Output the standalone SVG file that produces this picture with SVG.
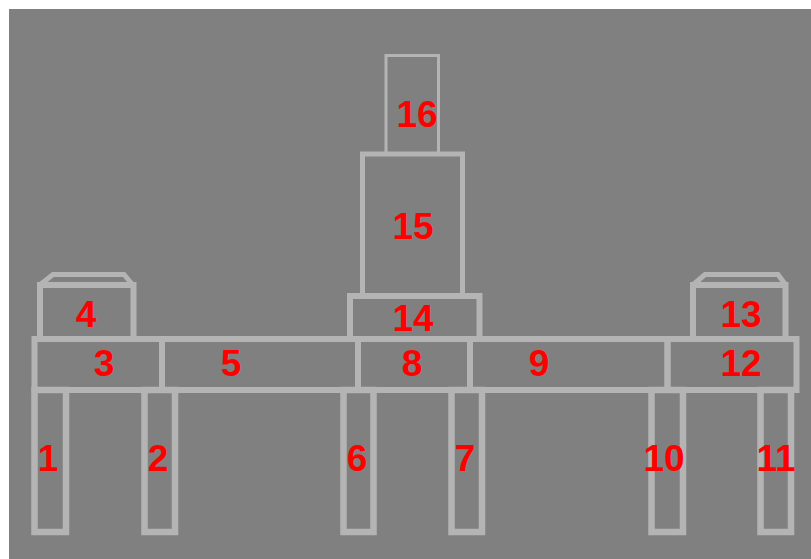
<svg xmlns="http://www.w3.org/2000/svg" width="811" height="559" viewBox="0 0 811 559">
<style>
.p{fill:none;stroke:#b4b4b4;stroke-width:6}
.leg{stroke-width:6.5}
.thin{stroke-width:3}
.mid{stroke-width:5}
.t{font-family:"Liberation Sans",Arial,sans-serif;font-weight:bold;font-size:37px;fill:#ff0000;text-anchor:middle}
</style>
<rect x="0" y="0" width="811" height="559" fill="#ffffff"/>
<rect x="9" y="9" width="802" height="550" fill="#808080"/>
<g id="part1"><rect class="p leg" x="34.5" y="390" width="31.5" height="142"/><text class="t" x="48" y="471">1</text></g>
<g id="part2"><rect class="p leg" x="144.5" y="390" width="30.5" height="142"/><text class="t" x="158" y="471">2</text></g>
<g id="part6"><rect class="p leg" x="343.5" y="390" width="30" height="142"/><text class="t" x="357" y="471">6</text></g>
<g id="part7"><rect class="p leg" x="451.5" y="390" width="30.5" height="142"/><text class="t" x="465" y="471">7</text></g>
<g id="part10"><rect class="p leg" x="651.5" y="390" width="31.5" height="142"/><text class="t" x="664" y="471">10</text></g>
<g id="part11"><rect class="p leg" x="760.5" y="390" width="30.5" height="142"/><text class="t" x="776" y="471">11</text></g>
<g id="part3"><rect class="p" x="34.5" y="339" width="127.5" height="51"/><text class="t" x="104" y="376">3</text></g>
<g id="part5"><rect class="p" x="162" y="339" width="196" height="51"/><text class="t" x="231" y="376">5</text></g>
<g id="part8"><rect class="p" x="358" y="339" width="112" height="51"/><text class="t" x="412" y="376">8</text></g>
<g id="part9"><rect class="p" x="470" y="339" width="197.5" height="51"/><text class="t" x="539" y="376">9</text></g>
<g id="part12"><rect class="p" x="667.5" y="339" width="129" height="51"/><text class="t" x="741" y="376">12</text></g>
<g id="part4"><rect class="p" x="40" y="285" width="93.5" height="54"/><polyline class="p mid" points="41,284 53,274.5 124,274.5 132,284"/><text class="t" x="86" y="327">4</text></g>
<g id="part13"><rect class="p" x="693" y="285" width="92.5" height="54"/><polyline class="p mid" points="694,284 705,274.5 778,274.5 785,284"/><text class="t" x="741" y="327">13</text></g>
<g id="part14"><rect class="p" x="350" y="296" width="129.5" height="43"/><text class="t" x="413" y="331">14</text></g>
<g id="part15"><rect class="p mid" x="362.5" y="154" width="100" height="142"/><text class="t" x="413" y="239">15</text></g>
<g id="part16"><rect class="p thin" x="386" y="55.5" width="52.5" height="98.5"/><text class="t" x="417" y="127">16</text></g>
<g id="connectors"></g>
</svg>
